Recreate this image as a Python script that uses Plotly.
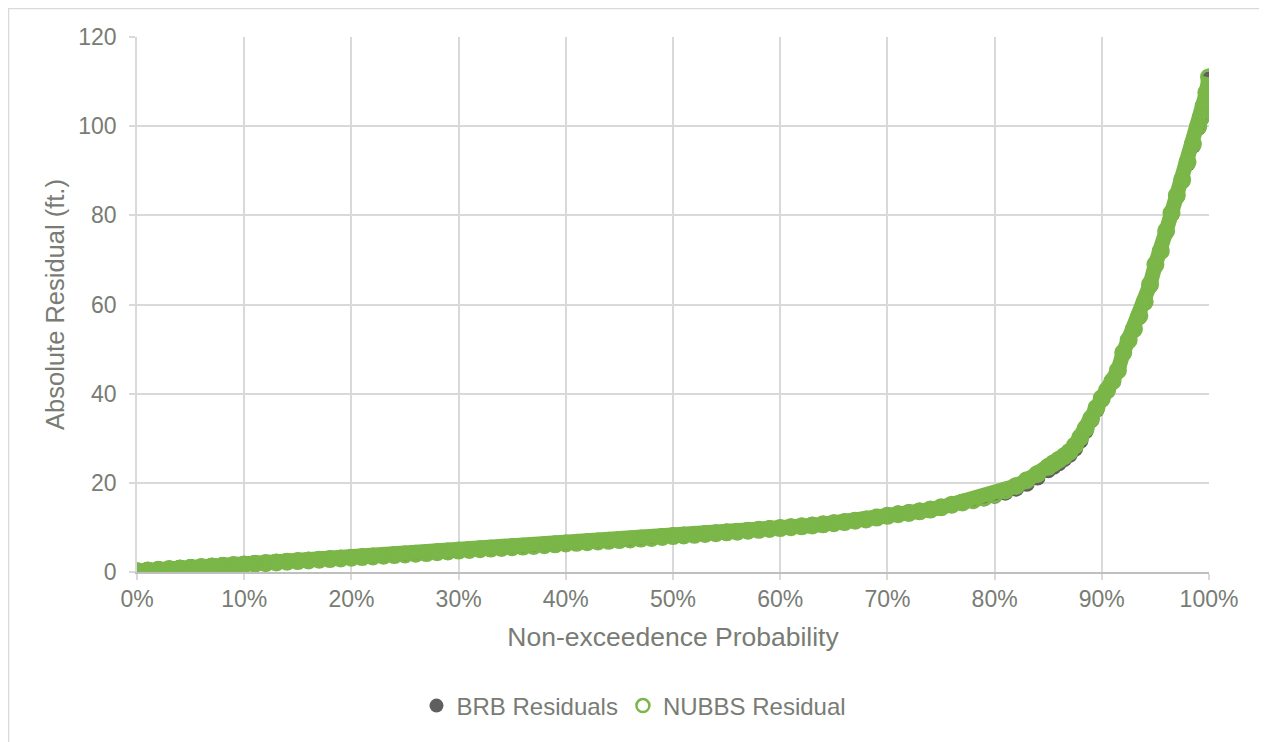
import plotly.graph_objects as go

# Non-exceedence probability (percent)
prob_pct = [
    0, 1, 2, 3, 4, 5, 6, 7, 8, 9,
    10, 11, 12, 13, 14, 15, 16, 17, 18, 19,
    20, 21, 22, 23, 24, 25, 26, 27, 28, 29,
    30, 31, 32, 33, 34, 35, 36, 37, 38, 39,
    40, 41, 42, 43, 44, 45, 46, 47, 48, 49,
    50, 51, 52, 53, 54, 55, 56, 57, 58, 59,
    60, 61, 62, 63, 64, 65, 66, 67, 68, 69,
    70, 71, 72, 73, 74, 75, 76, 77, 78, 79,
    80, 81, 82, 83, 84, 85,
    85.5, 86, 86.5, 87, 87.5, 88, 88.5, 89, 89.5, 90,
    90.5, 91, 91.5, 92, 92.5, 93, 93.5, 94, 94.5, 95,
    95.5, 96, 96.5, 97, 97.5, 98, 98.5, 99,
    99.25, 99.5, 99.75, 100,
]

# Absolute residuals (ft.)
nubbs_residual = [
    0.2, 0.35, 0.5, 0.65, 0.8, 0.95, 1.1, 1.25, 1.4, 1.55,
    1.7, 1.85, 2.0, 2.15, 2.3, 2.45, 2.6, 2.75, 2.9, 3.05,
    3.2, 3.35, 3.5, 3.65, 3.8, 3.95, 4.1, 4.25, 4.45, 4.6,
    4.8, 4.95, 5.1, 5.25, 5.4, 5.55, 5.7, 5.85, 6.0, 6.2,
    6.4, 6.55, 6.7, 6.85, 7.0, 7.15, 7.3, 7.5, 7.65, 7.85,
    8.05, 8.2, 8.35, 8.55, 8.7, 8.9, 9.05, 9.25, 9.45, 9.65,
    9.85, 10.05, 10.25, 10.45, 10.7, 10.95, 11.2, 11.5, 11.8, 12.2,
    12.6, 12.95, 13.25, 13.6, 14.0, 14.5, 15.1, 15.6, 16.1, 16.7,
    17.4, 18.3, 19.3, 20.6, 22.0, 23.6,
    24.4, 25.2, 26.0, 27.0, 28.4, 30.2, 32.2, 34.4, 36.8, 39.0,
    40.8, 42.8, 45.2, 49.2, 52.0, 54.5, 57.5, 60.6, 64.5, 69.0,
    72.0, 76.5, 80.5, 84.5, 88.0, 92.0, 96.0, 100.0,
    102.0, 104.5, 107.5, 111.0,
]

brb_residuals = [
    0.3, 0.5, 0.65, 0.8, 0.95, 1.1, 1.25, 1.4, 1.55, 1.7,
    1.85, 2.0, 2.15, 2.3, 2.45, 2.6, 2.75, 2.9, 3.05, 3.2,
    3.35, 3.5, 3.65, 3.8, 3.95, 4.1, 4.25, 4.4, 4.6, 4.75,
    4.95, 5.1, 5.25, 5.4, 5.55, 5.7, 5.85, 6.0, 6.15, 6.35,
    6.55, 6.7, 6.85, 7.0, 7.15, 7.3, 7.45, 7.65, 7.8, 8.0,
    8.2, 8.35, 8.5, 8.7, 8.85, 9.05, 9.2, 9.4, 9.6, 9.8,
    10.0, 10.2, 10.4, 10.6, 10.85, 11.1, 11.35, 11.65, 11.95, 12.35,
    12.75, 13.1, 13.4, 13.75, 14.1, 14.5, 15.0, 15.5, 16.0, 16.5,
    17.1, 17.8, 18.7, 19.8, 21.2, 22.8,
    23.6, 24.4, 25.3, 26.3, 27.6, 29.4, 31.6, 34.0, 36.4, 38.6,
    40.5, 42.6, 45.0, 49.0, 51.8, 54.3, 57.2, 60.4, 64.2, 68.6,
    71.8, 76.2, 80.2, 84.2, 87.6, 91.6, 95.6, 99.6,
    101.6, 104.0, 107.0, 110.5,
]

x_ticks = [0, 0.1, 0.2, 0.3, 0.4, 0.5, 0.6, 0.7, 0.8, 0.9, 1.0]
y_ticks = [0, 20, 40, 60, 80, 100, 120]

prob = [p / 100 for p in prob_pct]

FONT = "Liberation Sans, Arial, sans-serif"
TXT = "#787c74"
GRID = "#d9d9d9"
GREEN = "#7ab648"
GRAY = "#5f5f5f"

fig = go.Figure()
# BRB residuals: filled dark grey circles
fig.add_trace(go.Scatter(
    x=prob, y=brb_residuals, mode="markers", name="BRB Residuals",
    marker=dict(symbol="circle", size=16, color=GRAY, line=dict(width=0)),
    showlegend=False,
))
# NUBBS residual: dense open green circles (drawn as band + rings)
fig.add_trace(go.Scatter(
    x=prob, y=nubbs_residual, mode="lines+markers", name="NUBBS Residual",
    line=dict(color=GREEN, width=15),
    marker=dict(symbol="circle-open", size=15, color=GREEN, line=dict(width=3, color=GREEN)),
    showlegend=False,
))
# legend entries
fig.add_trace(go.Scatter(
    x=[None], y=[None], mode="markers", name="BRB Residuals",
    marker=dict(symbol="circle", size=14, color=GRAY),
))
fig.add_trace(go.Scatter(
    x=[None], y=[None], mode="markers", name="NUBBS Residual",
    marker=dict(symbol="circle-open", size=13, color=GREEN, line=dict(width=2.5, color=GREEN)),
))

# page has an 8px body margin; figure coordinates = page coordinates - 8
OFF = 8
W, H = 1267 - OFF, 742 - OFF
L, R, T, B = 137 - OFF, 58, 37 - OFF, 170
pw, ph = W - L - R, H - T - B

def px_x(px):
    return (px - OFF - L) / pw

def px_y(py):
    return (H - B - (py - OFF)) / ph

fig.add_shape(type="rect", xref="paper", yref="paper",
              x0=px_x(8.5), x1=px_x(1290), y0=px_y(760), y1=px_y(8.5),
              line=dict(color=GRID, width=1.5), fillcolor="rgba(0,0,0,0)", layer="below")

fig.update_layout(
    width=W, height=H,
    margin=dict(l=L, r=R, t=T, b=B),
    paper_bgcolor="white", plot_bgcolor="white",
    font=dict(family=FONT, color=TXT, size=23),
    showlegend=True,
    legend=dict(orientation="h", x=px_x(634), xanchor="center", y=px_y(706), yanchor="middle",
                font=dict(size=24, color=TXT), itemwidth=30, bgcolor="rgba(0,0,0,0)"),
    xaxis=dict(
        range=[0, 1], tickvals=x_ticks, tickformat=".0%",
        showgrid=True, gridcolor=GRID, gridwidth=1.5,
        ticks="outside", ticklen=6, tickcolor=GRID, tickwidth=1.5,
        showline=True, linecolor="#bfbfbf", linewidth=1.5,
        zeroline=False, tickfont=dict(size=23, color=TXT),
        title=dict(text="Non-exceedence Probability", font=dict(size=26.5, color=TXT), standoff=16),
    ),
    yaxis=dict(
        range=[0, 120], tickvals=y_ticks,
        showgrid=True, gridcolor=GRID, gridwidth=1.5,
        ticks="outside", ticklen=6, tickcolor=GRID, tickwidth=1.5,
        ticklabelstandoff=8,
        showline=True, linecolor=GRID, linewidth=1.5,
        zeroline=False, tickfont=dict(size=23, color=TXT),
        title=dict(text="Absolute Residual (ft.)", font=dict(size=25.5, color=TXT), standoff=6),
    ),
)

fig.write_html("out.html")
